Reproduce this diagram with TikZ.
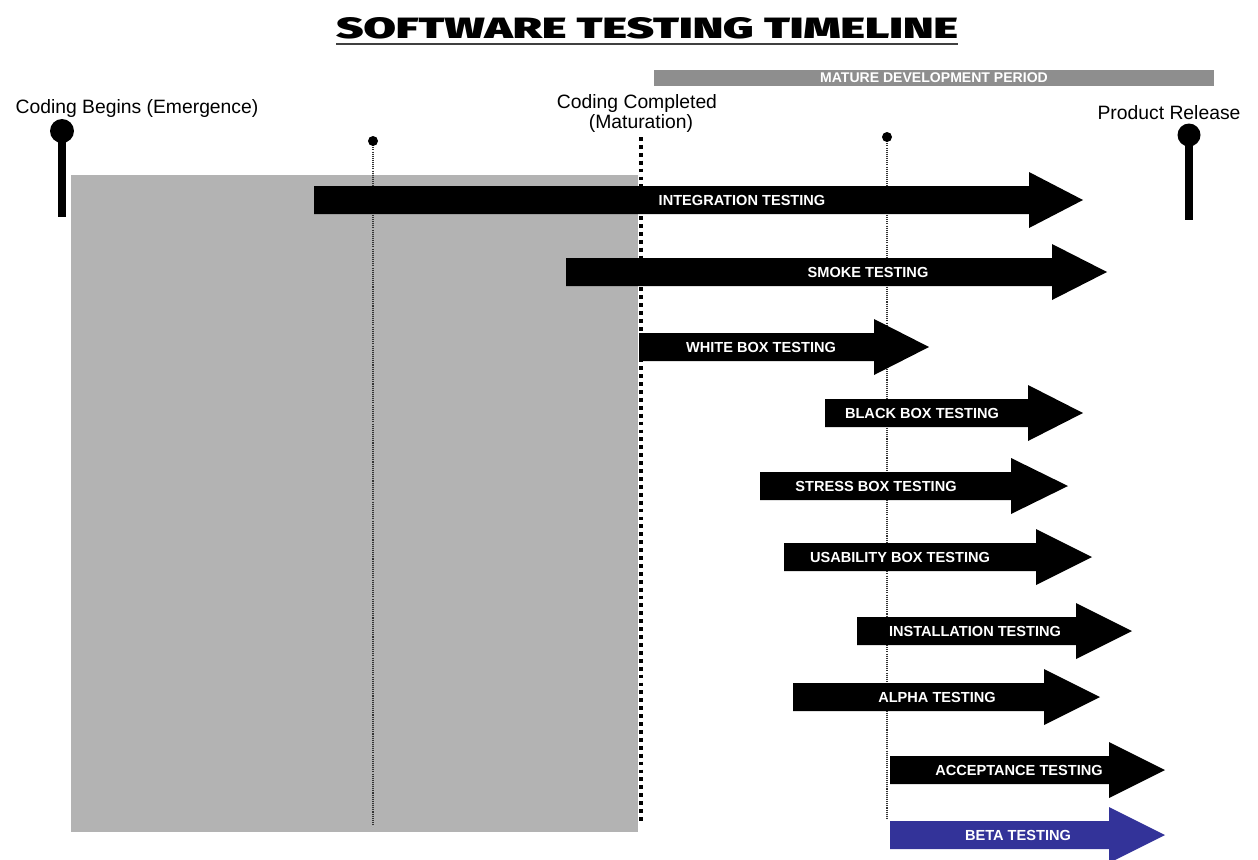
\documentclass[tikz,border=0pt]{standalone}
\usepackage{fontspec}
\setmainfont{Liberation Sans}
\IfFontExistsTF{Fira Sans Black}
  {\newfontfamily\titlefont{Fira Sans Black}}
  {\newfontfamily\titlefont{Liberation Sans}[UprightFont={* Bold}]}
\definecolor{codegray}{HTML}{B3B3B3}
\definecolor{bargray}{HTML}{8E8E8E}
\definecolor{betablue}{HTML}{333399}
\definecolor{lineclr}{HTML}{333333}
\tikzset{
  lbl/.style={font=\fontsize{11}{13}\selectfont, inner sep=0pt, text=black, anchor=base},
  arrtxt/.style={font=\bfseries\fontsize{8.3}{10}\selectfont, text=white, inner sep=0pt},
  thindots/.style={draw=lineclr, line width=0.6pt, dash pattern=on 0.6pt off 0.6pt},
  thickdots/.style={draw=black, line width=2.2pt, dash pattern=on 2.2pt off 2.3pt},
}
% name, x left, x head base, x tip, y centre, label x, label, colour
\newcommand\testarrow[8]{%
  \fill[#8] (#2,#5-14) -- (#3,#5-14) -- (#3,#5-28) -- (#4,#5) -- (#3,#5+28)
     -- (#3,#5+14) -- (#2,#5+14) -- cycle;
  \node[arrtxt] (#1) at (#6,#5) {#7};
}
\begin{document}
\begin{tikzpicture}[x=0.02cm, y=-0.02cm]
\useasboundingbox (0,0) rectangle (1258,859);
\fill[white] (0,0) rectangle (1258,859);

% title
\node[inner sep=0pt, anchor=base] (title) at (647,38)
  {\resizebox{12.44cm}{0.42cm}{\titlefont SOFTWARE TESTING TIMELINE}};
\draw[line width=1.1pt, draw=black!75] (336,44) -- (958,44);

% mature development period bar
\fill[bargray] (654,70) rectangle (1214,86);
\node[font=\bfseries\fontsize{8}{10}\selectfont, text=white, inner sep=0pt] (mature) at (934,78) {MATURE DEVELOPMENT PERIOD};

% coding period block
\fill[codegray] (71,175) rectangle (638,832);

% markers
\coordinate (d1) at (373,141);
\coordinate (d1end) at (373,825);
\coordinate (d2) at (887,137);
\coordinate (d2end) at (887,820);
\coordinate (cc) at (641,137);
\coordinate (ccend) at (641,823);
\draw[thindots] (d1) -- (d1end);
\draw[thindots] (d2) -- (d2end);
\draw[thickdots] (cc) -- (ccend);
\fill (d1) circle (0.1cm);
\fill (d2) circle (0.1cm);

% pins
\coordinate (pinA) at (62,131);
\coordinate (pinB) at (1189,135);
\fill (58,131) rectangle (66,217);
\fill (pinA) circle (0.24cm);
\fill (1185,135) rectangle (1193,220);
\fill (pinB) circle (0.23cm);

% labels
\node[lbl] (begins) at (137,113) {Coding Begins (Emergence)};
\node[lbl] (completed) at (637,108) {Coding Completed};
\node[lbl] (maturation) at (641,128) {(Maturation)};
\node[lbl] (release) at (1169,119) {Product Release};

% testing arrows
\testarrow{integration}{314}{1029}{1083}{200}{742}{INTEGRATION TESTING}{black}
\testarrow{smoke}{566}{1052}{1107}{272}{868}{SMOKE TESTING}{black}
\testarrow{white}{639}{874}{929}{347}{761}{WHITE BOX TESTING}{black}
\testarrow{blackbox}{825}{1028}{1083}{413}{922}{BLACK BOX TESTING}{black}
\testarrow{stress}{760}{1011}{1068}{486}{876}{STRESS BOX TESTING}{black}
\testarrow{usability}{784}{1036}{1092}{557}{900}{USABILITY BOX TESTING}{black}
\testarrow{installation}{857}{1076}{1132}{631}{975}{INSTALLATION TESTING}{black}
\testarrow{alpha}{793}{1044}{1100}{697}{937}{ALPHA TESTING}{black}
\testarrow{acceptance}{890}{1109}{1165}{770}{1019}{ACCEPTANCE TESTING}{black}
\testarrow{beta}{890}{1109}{1165}{835}{1018}{BETA TESTING}{betablue}
\end{tikzpicture}
\end{document}
